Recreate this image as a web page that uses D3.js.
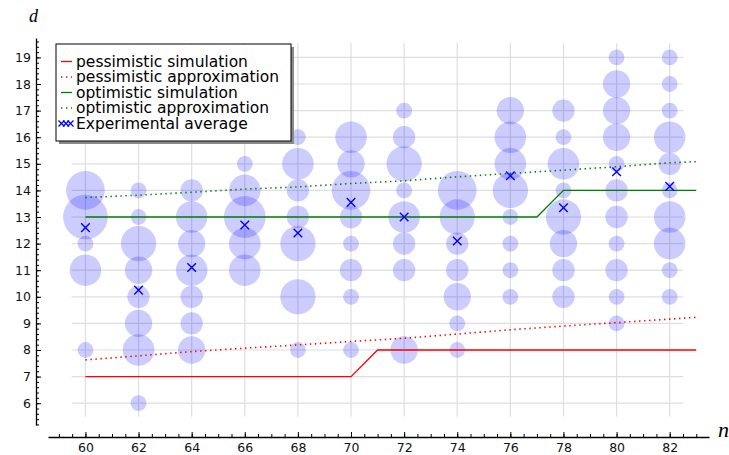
<!DOCTYPE html>
<html>
<head>
<meta charset="utf-8">
<script src="https://cdn.jsdelivr.net/npm/d3@7/dist/d3.min.js"></script>
<style>
  html, body { margin: 0; padding: 0; background: #ffffff; }
  svg { display: block; }
  .tick text { font-family: "DejaVu Sans", sans-serif; font-size: 12.5px; fill: #111; }
</style>
</head>
<body>
<script>
// Team sizes n sampled in the experiments (one bubble column each)
const nValues = [60, 62, 64, 66, 68, 70, 72, 74, 76, 78, 80, 82];
// Possible values of d, one row per level
const dLevels = [6, 7, 8, 9, 10, 11, 12, 13, 14, 15, 16, 17, 18, 19];
// Number of runs that ended at each d level (rows follow dLevels), one list per n
const runCounts = [
  [0, 0, 1, 0, 0, 4, 1, 8, 6, 0, 0, 0, 0, 0], // 60
  [1, 0, 4, 3, 2, 3, 5, 1, 1, 0, 0, 0, 0, 0], // 62
  [0, 0, 3, 2, 2, 4, 3, 4, 2, 0, 0, 0, 0, 0], // 64
  [0, 0, 0, 0, 0, 4, 4, 7, 4, 1, 0, 0, 0, 0], // 66
  [0, 0, 1, 0, 5, 0, 5, 2, 2, 4, 1, 0, 0, 0], // 68
  [0, 0, 1, 0, 1, 2, 1, 2, 6, 3, 4, 0, 0, 0], // 70
  [0, 0, 3, 0, 0, 2, 2, 4, 1, 5, 2, 1, 0, 0], // 72
  [0, 0, 1, 1, 3, 2, 2, 5, 6, 0, 0, 0, 0, 0], // 74
  [0, 0, 0, 0, 1, 1, 1, 1, 5, 4, 4, 3, 0, 0], // 76
  [0, 0, 0, 0, 2, 2, 3, 5, 1, 4, 1, 2, 0, 0], // 78
  [0, 0, 0, 1, 1, 2, 1, 2, 2, 1, 3, 3, 3, 1], // 80
  [0, 0, 0, 0, 1, 1, 4, 4, 1, 2, 4, 1, 1, 1]  // 82
];
// Experimental average of d for each n
const averages = [12.6, 10.25, 11.1, 12.7, 12.4, 13.55, 13.0, 12.1, 14.55, 13.35, 14.7, 14.15];

// Simulated curves, one value per integer n from 60 to 83
const simN = d3.range(60, 84);
const pessimisticSim = [7, 7, 7, 7, 7, 7, 7, 7, 7, 7, 7,
                        8, 8, 8, 8, 8, 8, 8, 8, 8, 8, 8, 8, 8];
const optimisticSim  = [13, 13, 13, 13, 13, 13, 13, 13, 13, 13, 13, 13, 13, 13, 13, 13, 13, 13,
                        14, 14, 14, 14, 14, 14];

// Approximation curves
const approxN = [60, 62, 64, 66, 68, 70, 72, 74, 76, 78, 80, 82, 83];
const pessimisticApprox = [7.63, 7.78, 7.94, 8.07, 8.19, 8.32, 8.44, 8.60, 8.76, 8.90, 9.03, 9.16, 9.23];
const optimisticApprox  = [13.73, 13.82, 13.93, 14.05, 14.13, 14.26, 14.36, 14.51, 14.64, 14.76, 14.89, 15.04, 15.08];

// Tick values
const xMajorTicks = [60, 62, 64, 66, 68, 70, 72, 74, 76, 78, 80, 82];
const yMajorTicks = [6, 7, 8, 9, 10, 11, 12, 13, 14, 15, 16, 17, 18, 19];

const legendLabels = [
  "pessimistic simulation",
  "pessimistic approximation",
  "optimistic simulation",
  "optimistic approximation",
  "Experimental average"
];

const W = 729, H = 455;
const svg = d3.select("body").append("svg").attr("width", W).attr("height", H);

const x = d3.scaleLinear().domain([58.59, 83.48]).range([48, 709]);
const y = d3.scaleLinear().domain([5.18, 19.73]).range([425, 38]);
const r = d3.scaleSqrt().domain([0, 1]).range([0, 7.9]);

const RED = "#ff0000", GREEN = "#008000", BLUE = "#0000ff";

// grid
const grid = svg.append("g").attr("stroke", "#dedede").attr("stroke-width", 1.2);
grid.selectAll("line.v").data(xMajorTicks).join("line")
  .attr("x1", d => x(d)).attr("x2", d => x(d))
  .attr("y1", y(19.53)).attr("y2", y(5.5));
grid.selectAll("line.h").data(yMajorTicks).join("line")
  .attr("y1", d => y(d)).attr("y2", d => y(d))
  .attr("x1", x(59.48)).attr("x2", x(82.5));

// bubbles
const bubbles = [];
nValues.forEach((n, i) => {
  dLevels.forEach((d, j) => {
    const c = runCounts[i][j];
    if (c > 0) bubbles.push({ n, d, c });
  });
});
svg.append("g").selectAll("circle").data(bubbles).join("circle")
  .attr("cx", b => x(b.n)).attr("cy", b => y(b.d)).attr("r", b => r(b.c))
  .attr("fill", BLUE).attr("fill-opacity", 0.2);

// curves
const line = d3.line().x(p => x(p[0])).y(p => y(p[1]));
const curves = [
  { n: simN, v: pessimisticSim, color: RED, dash: null },
  { n: approxN, v: pessimisticApprox, color: RED, dash: "1.4,3.6" },
  { n: simN, v: optimisticSim, color: GREEN, dash: null },
  { n: approxN, v: optimisticApprox, color: GREEN, dash: "1.4,3.6" }
];
curves.forEach(c => {
  svg.append("path")
    .attr("d", line(c.n.map((n, i) => [n, c.v[i]])))
    .attr("fill", "none").attr("stroke", c.color)
    .attr("stroke-width", c.dash ? 1.6 : 1.3)
    .attr("stroke-dasharray", c.dash);
});

// average markers
const cross = s => `M${-s},${-s}L${s},${s}M${-s},${s}L${s},${-s}`;
svg.append("g").selectAll("path").data(nValues).join("path")
  .attr("transform", (n, i) => `translate(${x(n)},${y(averages[i])})`)
  .attr("d", cross(4.3))
  .attr("stroke", BLUE).attr("stroke-width", 1.4).attr("fill", "none");

// axes
const xAxisY = 437, yAxisX = 36;
const xMinor = d3.range(59, 83.01, 0.5);
const yMinor = d3.range(5.2, 19.71, 0.2);

svg.append("g").attr("transform", `translate(0,${xAxisY})`)
  .call(d3.axisBottom(x).tickValues(xMinor).tickSizeInner(-3).tickSizeOuter(0).tickFormat(""))
  .call(g => g.select(".domain").attr("stroke", "#000").attr("stroke-width", 1.3));
svg.append("g").attr("transform", `translate(0,${xAxisY})`)
  .call(d3.axisBottom(x).tickValues(xMajorTicks).tickSizeInner(-5).tickSizeOuter(0).tickPadding(6))
  .call(g => g.select(".domain").remove());

svg.append("g").attr("transform", `translate(${yAxisX},0)`)
  .call(d3.axisLeft(y).tickValues(yMinor).tickSizeInner(-3).tickSizeOuter(0).tickFormat(""))
  .call(g => g.select(".domain").attr("stroke", "#000").attr("stroke-width", 1.3));
svg.append("g").attr("transform", `translate(${yAxisX},0)`)
  .call(d3.axisLeft(y).tickValues(yMajorTicks).tickSizeInner(-5).tickSizeOuter(0).tickPadding(5))
  .call(g => g.select(".domain").remove());

svg.selectAll(".tick line").attr("stroke", "#000");

// axis names
svg.append("text").attr("x", 29).attr("y", 22)
  .attr("font-family", "'Liberation Serif', serif").attr("font-style", "italic")
  .attr("font-size", 18).text("d");
svg.append("text").attr("x", 718).attr("y", 437)
  .attr("font-family", "'Liberation Serif', serif").attr("font-style", "italic")
  .attr("font-size", 22).text("n");

// legend
const lg = svg.append("g");
const lx = 56, ly = 44, lw = 235, lh = 97;
lg.append("rect").attr("x", lx + 3).attr("y", ly + 3).attr("width", lw).attr("height", lh)
  .attr("fill", "#8a8a8a");
lg.append("rect").attr("x", lx).attr("y", ly).attr("width", lw).attr("height", lh)
  .attr("fill", "#fff").attr("stroke", "#000").attr("stroke-width", 1);

const rowY = i => 66.5 + i * 15.5;
legendLabels.forEach((label, i) => {
  const cy = rowY(i) - 5;
  if (i < 4) {
    const c = curves[i];
    lg.append("line").attr("x1", 61).attr("x2", 72).attr("y1", cy).attr("y2", cy)
      .attr("stroke", c.color).attr("stroke-width", c.dash ? 1.6 : 1.3)
      .attr("stroke-dasharray", c.dash);
  } else {
    [61.5, 66, 70.5].forEach(mx => {
      lg.append("path").attr("transform", `translate(${mx},${cy})`)
        .attr("d", cross(3)).attr("stroke", BLUE).attr("stroke-width", 1.3);
    });
  }
  lg.append("text").attr("x", 76).attr("y", rowY(i))
    .attr("font-family", "'DejaVu Sans', sans-serif").attr("font-size", 15.5)
    .attr("fill", "#000").text(label);
});
</script>
</body>
</html>
